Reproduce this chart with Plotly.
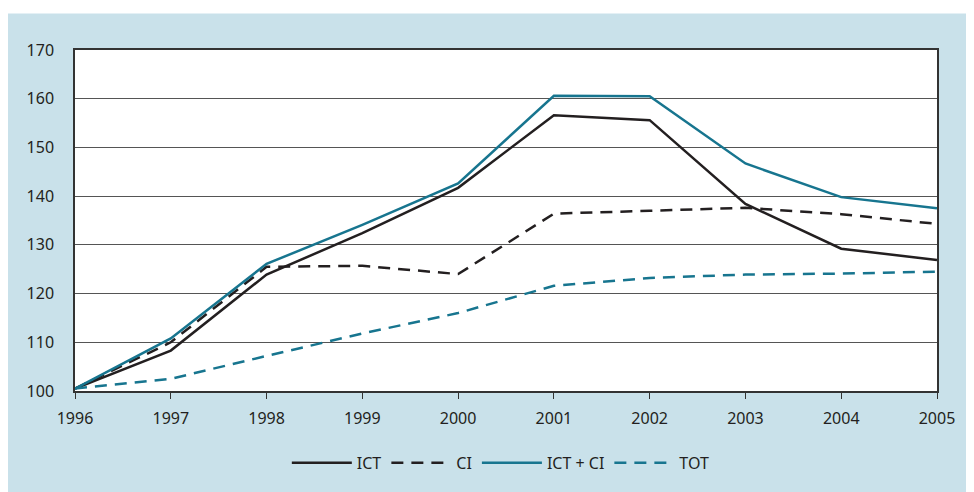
import plotly.graph_objects as go

years = [1996, 1997, 1998, 1999, 2000, 2001, 2002, 2003, 2004, 2005]
ict = [100.5, 108.3, 123.9, 132.4, 141.7, 156.6, 155.6, 138.4, 129.2, 126.9]
ci = [100.5, 110.0, 125.5, 125.7, 124.0, 136.4, 137.0, 137.6, 136.3, 134.3]
ict_ci = [100.5, 110.8, 126.1, 134.1, 142.6, 160.6, 160.5, 146.7, 139.8, 137.5]
tot = [100.5, 102.5, 107.2, 111.8, 116.0, 121.6, 123.2, 123.9, 124.1, 124.5]

BLACK = "#231f20"
TEAL = "#17758f"
BG = "#c9e1ea"

fig = go.Figure()
fig.add_trace(go.Scatter(x=years, y=ict, name="ICT", mode="lines",
                         line=dict(color=BLACK, width=2.5)))
fig.add_trace(go.Scatter(x=years, y=ci, name="CI", mode="lines",
                         line=dict(color=BLACK, width=2.5, dash="12px,8px")))
fig.add_trace(go.Scatter(x=years, y=ict_ci, name="ICT + CI", mode="lines",
                         line=dict(color=TEAL, width=2.5)))
fig.add_trace(go.Scatter(x=years, y=tot, name="TOT", mode="lines",
                         line=dict(color=TEAL, width=2.5, dash="12px,8px")))

# page has an 8px body margin, so the figure sits at (8, 8)
W, H = 966, 484
L, R, T, B = 67, 37, 42, 96
pw, ph = W - L - R, H - T - B

fig.update_layout(
    width=W, height=H,
    margin=dict(l=L, r=R, t=T, b=B),
    paper_bgcolor=BG,
    plot_bgcolor="white",
    font=dict(family="Noto Sans, Open Sans, sans-serif", size=16, color=BLACK),
    showlegend=True,
    legend=dict(orientation="h", x=0.494, xanchor="center",
                y=(ph - (461 - T)) / ph, yanchor="middle",
                bgcolor="rgba(0,0,0,0)", itemwidth=60,
                font=dict(size=16, color=BLACK), tracegroupgap=0),
    shapes=[
        dict(type="rect", xref="paper", yref="paper", layer="below",
             x0=-L / pw - 0.01, x1=1 + R / pw + 0.01,
             y0=1 + (T - 5) / ph, y1=1 + T / ph + 0.02,
             fillcolor="white", line=dict(width=0)),
    ],
)

fig.update_xaxes(
    range=[1996, 2005], tickmode="array", tickvals=years,
    ticktext=[str(y) for y in years],
    showgrid=False, zeroline=False,
    showline=True, linecolor="#333333", linewidth=1.5, mirror=True,
    ticks="outside", ticklen=6, tickcolor="#333333", tickwidth=1,
    ticklabelstandoff=6,
    tickfont=dict(size=16, color=BLACK),
)
fig.update_yaxes(
    range=[100, 170], tick0=100, dtick=10,
    showgrid=True, gridcolor="#555555", gridwidth=1, zeroline=False,
    showline=True, linecolor="#333333", linewidth=1.5, mirror=True,
    ticks="", ticklabelstandoff=16,
    tickfont=dict(size=16, color=BLACK),
)

fig.write_html("out.html")
